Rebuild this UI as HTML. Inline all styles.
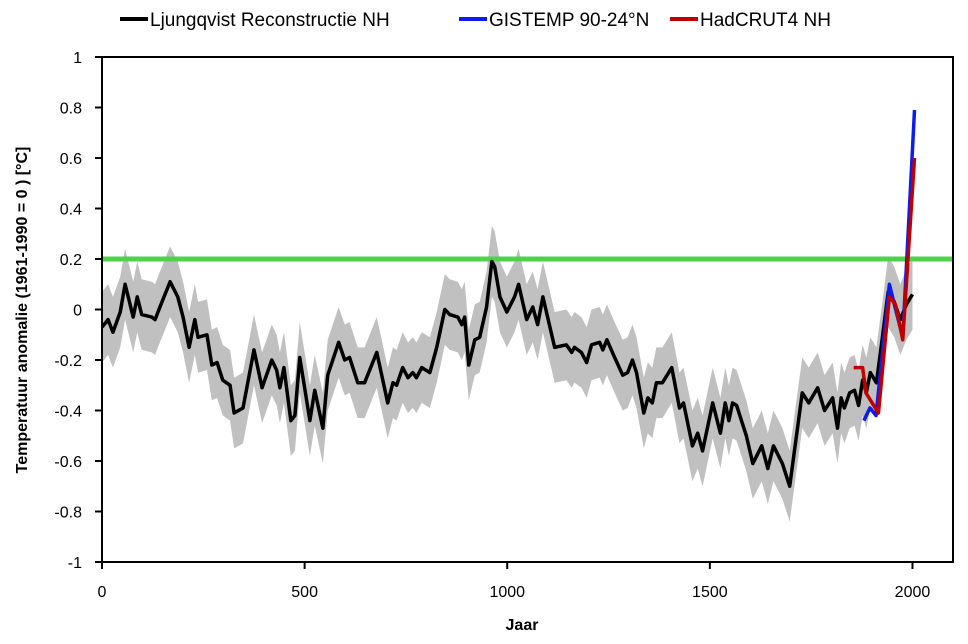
<!DOCTYPE html>
<html><head><meta charset="utf-8"><style>
body{margin:0;background:#fff;width:968px;height:639px;overflow:hidden}
svg text{font-family:"Liberation Sans",sans-serif}
</style></head><body>
<svg id="chart" width="968" height="639">
<g id="band"></g>
<g id="grid"></g>
<g id="series"></g>
<g id="axes"></g>
</svg>
<script>
const ljYears=[0,15,27,45,57,77,87,98,123,131,143,168,187,200,215,229,237,259,271,284,298,316,326,348,375,395,419,431,439,449,466,476,488,513,525,545,557,584,599,611,631,648,678,693,705,718,727,742,755,767,776,789,809,826,846,858,878,888,895,905,920,932,949,962,969,982,999,1018,1028,1048,1063,1075,1088,1117,1146,1159,1166,1183,1196,1208,1228,1236,1246,1265,1285,1297,1309,1319,1337,1347,1358,1368,1383,1406,1425,1435,1457,1470,1482,1507,1526,1538,1547,1556,1566,1590,1606,1628,1643,1657,1679,1697,1728,1744,1766,1783,1803,1815,1824,1832,1845,1857,1867,1877,1886,1896,1911,1925,1940,1955,1970,1985,2000];
const ljValues=[-0.07,-0.04,-0.09,-0.01,0.10,-0.03,0.05,-0.02,-0.03,-0.04,0.01,0.11,0.05,-0.03,-0.15,-0.04,-0.11,-0.10,-0.22,-0.21,-0.28,-0.30,-0.41,-0.39,-0.16,-0.31,-0.20,-0.24,-0.31,-0.23,-0.44,-0.42,-0.19,-0.44,-0.32,-0.47,-0.26,-0.13,-0.20,-0.19,-0.29,-0.29,-0.17,-0.28,-0.37,-0.29,-0.30,-0.23,-0.27,-0.25,-0.27,-0.23,-0.25,-0.15,0.00,-0.02,-0.03,-0.06,-0.03,-0.22,-0.12,-0.11,0.01,0.19,0.17,0.05,-0.01,0.05,0.10,-0.04,0.01,-0.06,0.05,-0.15,-0.14,-0.17,-0.15,-0.17,-0.21,-0.14,-0.13,-0.16,-0.12,-0.19,-0.26,-0.25,-0.20,-0.25,-0.41,-0.35,-0.37,-0.29,-0.29,-0.23,-0.39,-0.37,-0.54,-0.49,-0.56,-0.37,-0.49,-0.37,-0.44,-0.37,-0.38,-0.50,-0.61,-0.54,-0.63,-0.54,-0.61,-0.70,-0.33,-0.37,-0.31,-0.40,-0.35,-0.47,-0.35,-0.39,-0.33,-0.32,-0.38,-0.28,-0.33,-0.25,-0.29,-0.12,0.07,0.03,-0.04,0.02,0.06];
const bandSpread=0.14;
const gisYears=[1880,1895,1910,1943,1960,1976,2005];
const gisValues=[-0.44,-0.39,-0.42,0.10,-0.01,-0.11,0.79];
const hadYears=[1855,1877,1885,1916,1943,1958,1976,2005];
const hadValues=[-0.23,-0.23,-0.33,-0.41,0.05,0.02,-0.12,0.60];
const refValue=0.2;
const yTicks=[1,0.8,0.6,0.4,0.2,0,-0.2,-0.4,-0.6,-0.8,-1];
const yTickLabels=["1","0.8","0.6","0.4","0.2","0","-0.2","-0.4","-0.6","-0.8","-1"];
const xTicks=[0,500,1000,1500,2000];

const L=102,R=953,T=57,B=562;
const X=v=>L+(v/2100)*(R-L);
const Y=v=>T+(1-v)/2*(B-T);
const NS="http://www.w3.org/2000/svg";
function mk(tag,attrs,parent){const e=document.createElementNS(NS,tag);for(const k in attrs)e.setAttribute(k,attrs[k]);parent.appendChild(e);return e;}

// band
let up=ljYears.map((y,i)=>X(y)+","+Y(ljValues[i]+bandSpread));
let lo=ljYears.map((y,i)=>X(y)+","+Y(ljValues[i]-bandSpread)).reverse();
const band=mk("polygon",{points:up.concat(lo).join(" "),fill:"#c0c0c0"},document.getElementById("band"));



// reference line
const ref=mk("line",{x1:L,x2:R,y1:Y(refValue),y2:Y(refValue),stroke:"#4fd04f","stroke-width":5},document.getElementById("grid"));



const sg=document.getElementById("series");
function line(xs,vs,color,name){
  const p=mk("polyline",{points:xs.map((y,i)=>X(y)+","+Y(vs[i])).join(" "),fill:"none",stroke:color,"stroke-width":3.5,"stroke-linejoin":"round"},sg);
  
  
}
line(ljYears,ljValues,"#000","ljungqvist-line");
line(gisYears,gisValues,"#0a1cf0","gistemp-line");
line(hadYears,hadValues,"#c00000","hadcrut4-line");

// axes
const ax=document.getElementById("axes");
const frame=mk("rect",{x:L,y:T,width:R-L,height:B-T,fill:"none",stroke:"#000","stroke-width":2},ax);


yTicks.forEach((v,i)=>{
  mk("line",{x1:L-7,x2:L,y1:Y(v),y2:Y(v),stroke:"#000","stroke-width":2},ax);
  const t=mk("text",{x:82,y:Y(v)+6,"text-anchor":"end","font-size":16,fill:"#000"},ax);
  t.textContent=yTickLabels[i];
  
  
});
xTicks.forEach(v=>{
  mk("line",{x1:X(v),x2:X(v),y1:B,y2:B+7,stroke:"#000","stroke-width":2},ax);
  const t=mk("text",{x:X(v),y:B+35,"text-anchor":"middle","font-size":16,fill:"#000"},ax);
  t.textContent=String(v);
  
  
});
</script>
<svg style="position:absolute;left:0;top:0" width="968" height="639">
<text x="522" y="630" text-anchor="middle" font-size="16" font-weight="bold">Jaar</text>
<text transform="translate(27,310) rotate(-90)" text-anchor="middle" font-size="16" font-weight="bold">Temperatuur anomalie  (1961-1990 = 0 ) [°C]</text>
<g>
<g><line x1="120" y1="19" x2="148" y2="19" stroke="#000" stroke-width="4"/><text x="150" y="26" font-size="19">Ljungqvist Reconstructie NH</text></g>
<g><line x1="459" y1="19" x2="487" y2="19" stroke="#0a1cf0" stroke-width="4"/><text x="489" y="26" font-size="19">GISTEMP 90-24°N</text></g>
<g><line x1="670" y1="19" x2="698" y2="19" stroke="#c00000" stroke-width="4"/><text x="700" y="26" font-size="19">HadCRUT4 NH</text></g>
</g>
</svg>
</body></html>
